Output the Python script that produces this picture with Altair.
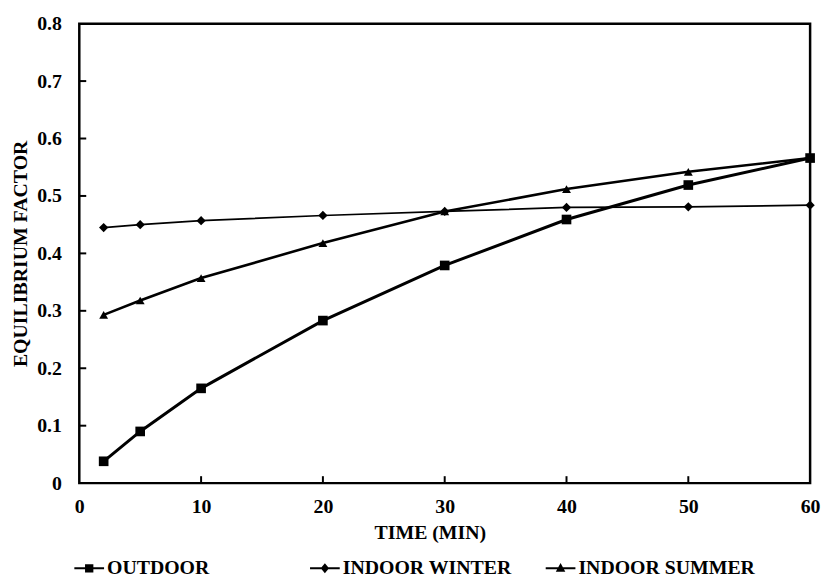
import altair as alt
import pandas as pd

# ---- data ----
times = [2, 5, 10, 20, 30, 40, 50, 60]
outdoor = [0.038, 0.090, 0.165, 0.283, 0.379, 0.459, 0.519, 0.566]
indoor_winter = [0.445, 0.450, 0.457, 0.466, 0.473, 0.480, 0.481, 0.484]
indoor_summer = [0.293, 0.318, 0.357, 0.418, 0.473, 0.512, 0.542, 0.566]
series_names = ["OUTDOOR", "INDOOR WINTER", "INDOOR SUMMER"]
line_widths = [3, 1.7, 2.6]
x_ticks = [10, 20, 30, 40, 50]
y_ticks = [0.1, 0.2, 0.3, 0.4, 0.5, 0.6, 0.7]
x_label_values = [0, 10, 20, 30, 40, 50, 60]
y_label_values = [0, 0.1, 0.2, 0.3, 0.4, 0.5, 0.6, 0.7, 0.8]

rows = []
for name, vals in zip(series_names, [outdoor, indoor_winter, indoor_summer]):
    for t, v in zip(times, vals):
        rows.append({"time": t, "value": v, "series": name})
df = pd.DataFrame(rows)
xt = pd.DataFrame({"t": x_ticks})
yt = pd.DataFrame({"v": y_ticks})

FONT = "Liberation Serif"
W, H = 738, 464

xscale = alt.Scale(domain=[0, 60], nice=False, zero=False)
yscale = alt.Scale(domain=[0, 0.8], nice=False)

xaxis = alt.Axis(values=x_label_values, title="TIME (MIN)", grid=False, domain=False,
                 ticks=False, tickSize=0, labelPadding=14, labelFont=FONT, labelFontSize=20,
                 labelFontWeight="bold", labelColor="black", titleFont=FONT, titleFontSize=20,
                 titleFontWeight="bold", titleColor="black", titleX=354, titleY=56,
                 titleBaseline="alphabetic", format="d", labelFlush=False)
yaxis = alt.Axis(values=y_label_values, title="EQUILIBRIUM FACTOR", grid=False, domain=False,
                 ticks=False, tickSize=0, labelPadding=18, labelFont=FONT, labelFontSize=20,
                 labelFontWeight="bold", labelColor="black", titleFont=FONT, titleFontSize=20,
                 titleFontWeight="bold", titleColor="black", titlePadding=6, format="~g",
                 labelFlush=False)

base = alt.Chart(df)

line_layers = []
for name, lw in zip(series_names, line_widths):
    line_layers.append(
        base.transform_filter(alt.datum.series == name)
        .mark_line(color="black", strokeWidth=lw)
        .encode(
            x=alt.X("time:Q", scale=xscale, axis=xaxis),
            y=alt.Y("value:Q", scale=yscale, axis=yaxis),
        )
    )

points = base.mark_point(filled=True, color="black", opacity=1).encode(
    x=alt.X("time:Q", scale=xscale, axis=xaxis),
    y=alt.Y("value:Q", scale=yscale, axis=yaxis),
    shape=alt.Shape("series:N", scale=alt.Scale(domain=series_names,
                                                range=["square", "diamond", "triangle-up"]),
                    legend=None),
    size=alt.Size("series:N", scale=alt.Scale(domain=series_names, range=[95, 80, 115]), legend=None),
)

legend_paths = [
    "M-1,-0.07H1V0.07H-1ZM-0.28,-0.28H0.28V0.28H-0.28Z",
    "M-1,-0.07H1V0.07H-1ZM0,-0.34L0.28,0L0,0.34L-0.28,0Z",
    "M-1,-0.07H1V0.07H-1ZM0,-0.36L0.32,0.24H-0.32Z",
]
legend_layer = base.mark_point(filled=True, color="black", opacity=0, size=900).encode(
    x=alt.X("time:Q", scale=xscale, axis=xaxis),
    y=alt.Y("value:Q", scale=yscale, axis=yaxis),
    shape=alt.Shape("series:N", scale=alt.Scale(domain=series_names, range=legend_paths),
                    sort=series_names,
                    legend=alt.Legend(title=None, orient="none", legendX=-5, legendY=535,
                                      direction="horizontal", columns=3, gridAlign="all",
                                      columnPadding=26, symbolSize=900,
                                      symbolFillColor="black", symbolStrokeWidth=0,
                                      symbolOpacity=1, labelFont=FONT, labelFontSize=20,
                                      labelFontWeight="bold", labelColor="black",
                                      labelLimit=400, labelOffset=3)),
)

xticks = alt.Chart(xt).mark_rule(color="black", strokeWidth=2).encode(
    x=alt.X("t:Q", scale=xscale, axis=xaxis), y=alt.value(H), y2=alt.value(H - 7))
yticks = alt.Chart(yt).mark_rule(color="black", strokeWidth=2).encode(
    y=alt.Y("v:Q", scale=yscale, axis=yaxis), x=alt.value(0), x2=alt.value(7))

chart = alt.layer(*line_layers, points, legend_layer, xticks, yticks).resolve_scale(
    shape="independent", size="independent"
).properties(
    width=W, height=H,
    autosize=alt.AutoSizeParams(type="none"),
    padding={"left": 72, "top": 13, "right": 11, "bottom": 92},
    background="white",
).configure_view(stroke="black", strokeWidth=2.5)

chart.save("out.html", embed_options={"renderer": "svg", "actions": False})
